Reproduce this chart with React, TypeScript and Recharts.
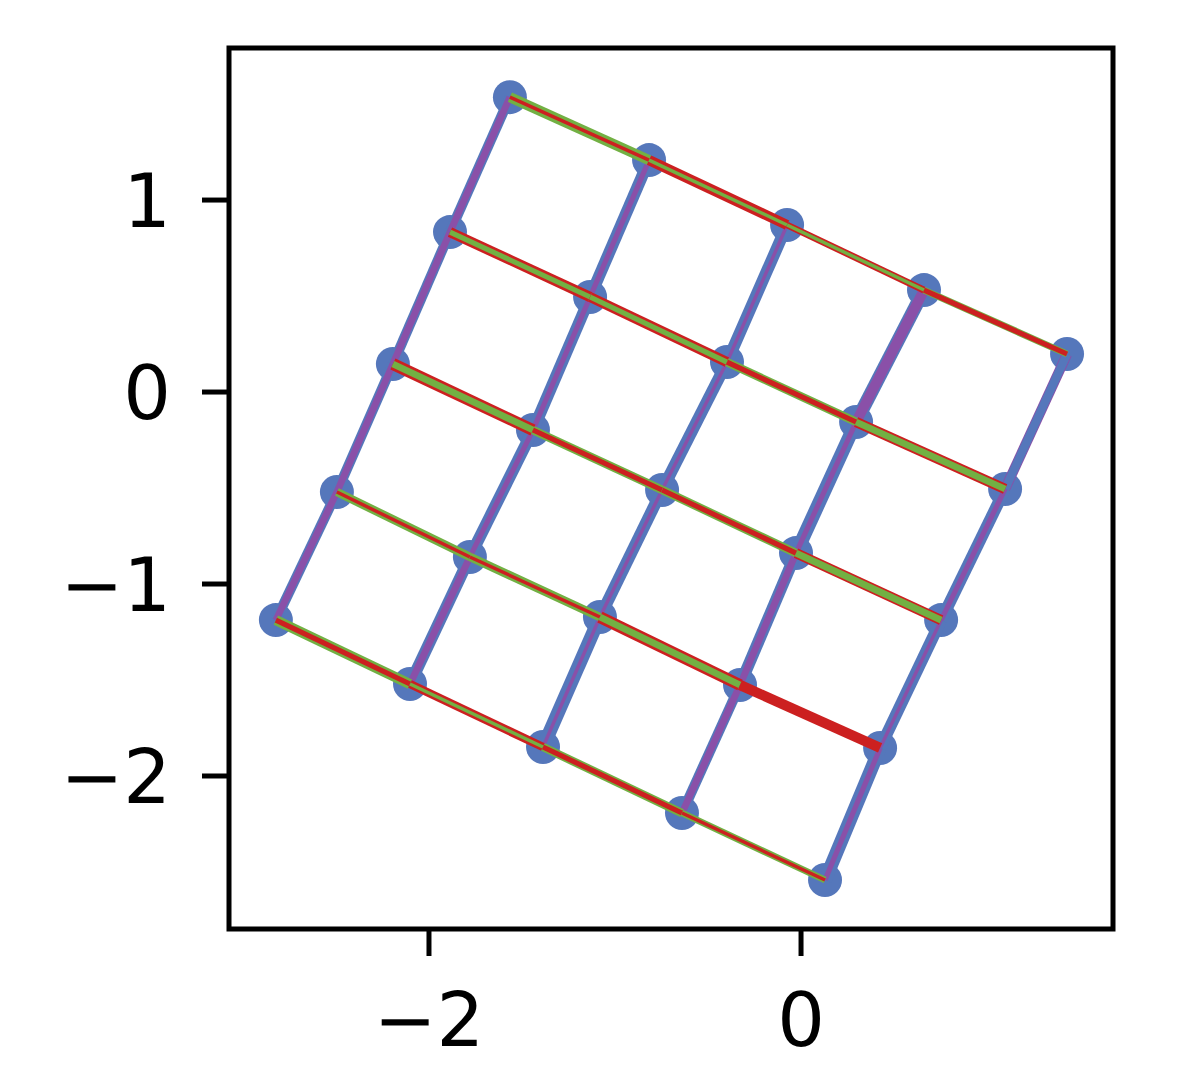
import { ReferenceArea, Scatter, ScatterChart, XAxis, YAxis } from "recharts";

// 5x5 grid nodes, row-major (row r, col c -> r * 5 + c)
const nodeX = [
  -1.565, -0.817, -0.075, 0.661, 1.43,
  -1.887, -1.134, -0.398, 0.296, 1.097,
  -2.194, -1.441, -0.747, -0.027, 0.753,
  -2.495, -1.78, -1.081, -0.328, 0.425,
  -2.823, -2.102, -1.387, -0.64, 0.129,
];
const nodeY = [
  1.536, 1.208, 0.87, 0.531, 0.198,
  0.833, 0.495, 0.156, -0.156, -0.505,
  0.146, -0.198, -0.51, -0.839, -1.188,
  -0.521, -0.859, -1.172, -1.526, -1.854,
  -1.188, -1.521, -1.849, -2.193, -2.542,
];

// edge weights along rows (row r, edge c -> c+1), 4 per row
const redW = [2, 6, 4, 3, 6, 6, 3, 6, 7, 3, 3, 6, 2, 2, 7, 6, 3, 5, 3, 2];
const greenW = [6, 2, 2, 4, 3, 3, 5, 4, 4, 5, 5, 4, 5, 5, 4, 0, 6, 2, 5, 4];
// edge weights along columns (col c, edge r -> r+1), 4 per column
const blueW = [6, 6, 6, 6, 7, 7, 7, 7, 7, 7, 7, 8, 8, 8, 7, 6, 5, 7, 7, 8];
const purpleW = [4, 4, 4, 4, 3, 3, 3, 4, 2, 2, 2, 2, 6, 3, 4, 4, 6, 3, 2, 3];

const xTicks = [-2, 0];
const yTicks = [-2, -1, 0, 1];

const BLUE = "#5577bb";
const PURPLE = "#8a50a8";
const RED = "#cc2020";
const GREEN = "#72b043";
const PX_PER_W = 1.7;

const nodes = nodeX.map((x, i) => ({ x, y: nodeY[i] }));

type Seg = { key: string; data: { x: number; y: number }[]; color: string; w: number };

const segments: Seg[] = [];
const pushPair = (a: number, b: number, list: [string, number][], key: string) => {
  [...list]
    .filter(([, w]) => w > 0)
    .sort((p, q) => q[1] - p[1])
    .forEach(([color, w], j) =>
      segments.push({ key: `${key}-${j}`, data: [nodes[a], nodes[b]], color, w })
    );
};
for (let c = 0; c < 5; c++) {
  for (let r = 0; r < 4; r++) {
    const k = c * 4 + r;
    pushPair(r * 5 + c, (r + 1) * 5 + c, [[BLUE, blueW[k]], [PURPLE, purpleW[k]]], `c${k}`);
  }
}
for (let r = 0; r < 5; r++) {
  for (let c = 0; c < 4; c++) {
    const k = r * 4 + c;
    pushPair(r * 5 + c, r * 5 + c + 1, [[RED, redW[k]], [GREEN, greenW[k]]], `r${k}`);
  }
}

const fmt = (v: number) => String(v).replace("-", "\u2212");
const tickStyle = { fontSize: 75, fill: "#000", fontFamily: "DejaVu Sans" };

export default function App() {
  return (
    <div style={{ position: "absolute", left: 0, top: 0, background: "#fff" }}>
      <ScatterChart width={1196} height={1092} margin={{ top: 48, right: 83, bottom: 0, left: 0 }}>
        <XAxis
          type="number"
          dataKey="x"
          domain={[-3.075, 1.677]}
          ticks={xTicks}
          tickFormatter={fmt}
          height={163}
          tickSize={27}
          tickMargin={37}
          axisLine={false}
          tickLine={{ stroke: "#000", strokeWidth: 5 }}
          tick={tickStyle}
          allowDataOverflow
        />
        <YAxis
          type="number"
          dataKey="y"
          domain={[-2.797, 1.792]}
          ticks={yTicks}
          tickFormatter={fmt}
          width={229}
          tickSize={27}
          tickMargin={31}
          axisLine={false}
          tickLine={{ stroke: "#000", strokeWidth: 5 }}
          tick={tickStyle}
          allowDataOverflow
        />
        <Scatter
          data={nodes}
          fill={BLUE}
          isAnimationActive={false}
          shape={(p: any) => <circle cx={p.cx} cy={p.cy} r={17} fill={BLUE} />}
        />
        {segments.map((s) => (
          <Scatter
            key={s.key}
            data={s.data}
            line={{ stroke: s.color, strokeWidth: s.w * PX_PER_W }}
            shape={() => <g />}
            isAnimationActive={false}
          />
        ))}
        <ReferenceArea
          x1={-3.075}
          x2={1.677}
          y1={-2.797}
          y2={1.792}
          fill="none"
          fillOpacity={0}
          stroke="#000"
          strokeWidth={5}
          ifOverflow="visible"
        />
      </ScatterChart>
    </div>
  );
}
